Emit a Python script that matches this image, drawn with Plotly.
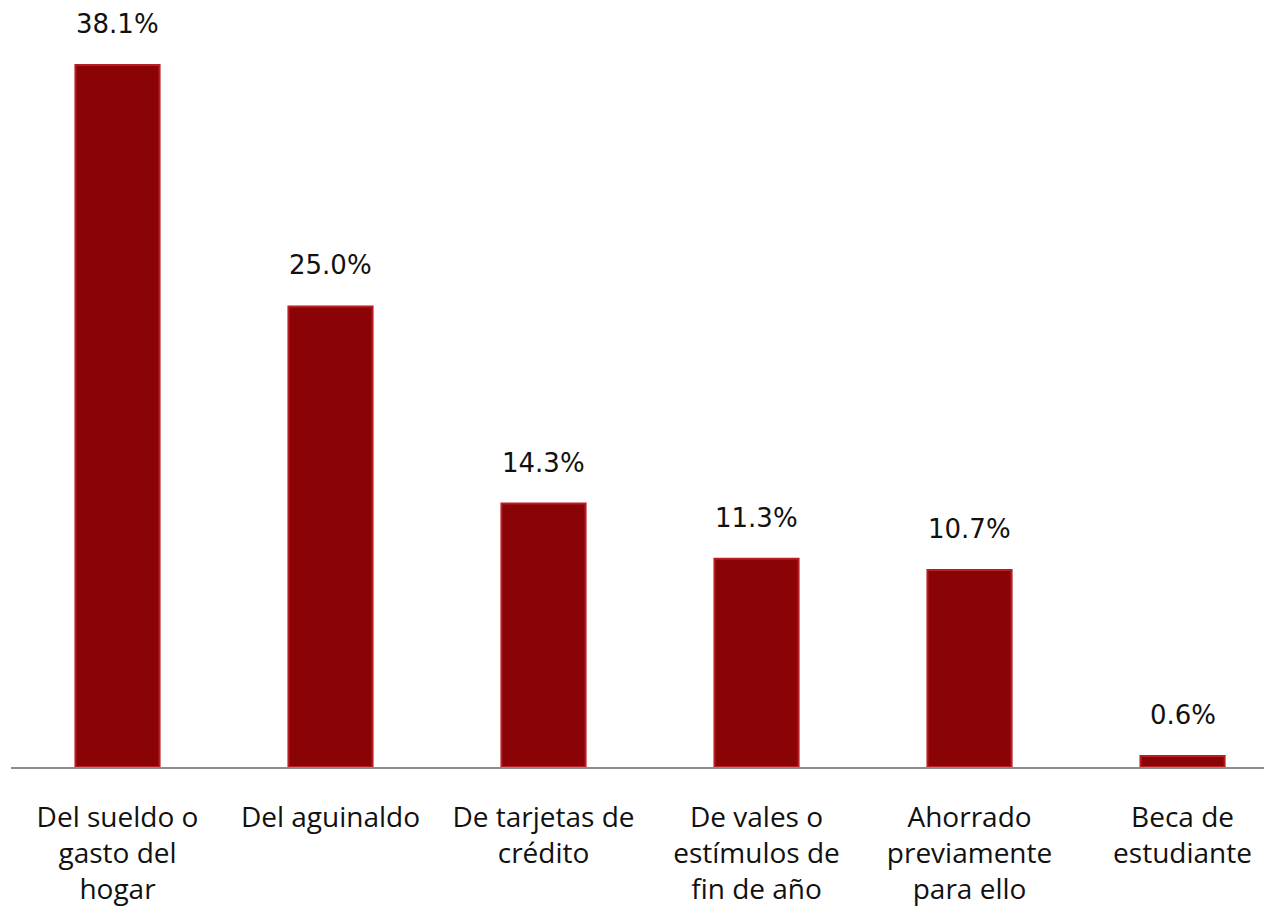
import plotly.graph_objects as go

categories = ["Del sueldo o<br>gasto del<br>hogar", "Del aguinaldo", "De tarjetas de<br>crédito",
              "De vales o<br>estímulos de<br>fin de año", "Ahorrado<br>previamente<br>para ello",
              "Beca de<br>estudiante"]
values = [38.1, 25.0, 14.3, 11.3, 10.7, 0.6]
value_labels = ["38.1%", "25.0%", "14.3%", "11.3%", "10.7%", "0.6%"]

x = list(range(len(values)))

fig = go.Figure()
fig.add_trace(go.Bar(
    x=x, y=values, width=0.395,
    marker=dict(color="#8a0306", line=dict(color="#b81e22", width=2)),
    hoverinfo="skip",
))

for xi, v, t in zip(x, values, value_labels):
    fig.add_annotation(x=xi, y=v, text=t, showarrow=False, yanchor="bottom",
                       yshift=24, font=dict(family="DejaVu Sans", size=26, color="#111111"))

fig.update_layout(
    width=1264, height=913,
    margin=dict(l=3, r=0, t=0, b=154),
    paper_bgcolor="white", plot_bgcolor="rgba(0,0,0,0)",
    showlegend=False,
    xaxis=dict(range=[-0.5, 5.42], tickmode="array", tickvals=x, ticktext=categories,
               showline=True, linecolor="#8c8c8c", linewidth=2, showgrid=False,
               zeroline=False, ticks="", ticklabelstandoff=24, automargin=False,
               tickfont=dict(family="Open Sans", size=28, color="#111111")),
    yaxis=dict(range=[0, 41.2], visible=False, showgrid=False, zeroline=False,
               automargin=False),
)

fig.write_html("out.html")
